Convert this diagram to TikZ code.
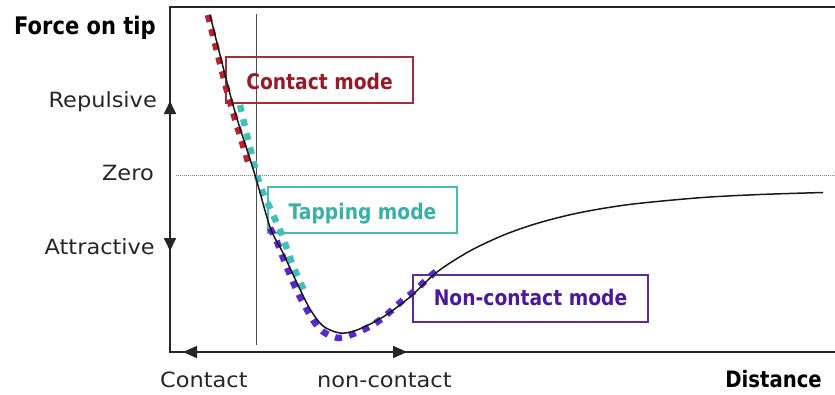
\documentclass[tikz,border=0pt]{standalone}
\usepackage{fontspec}
\usetikzlibrary{arrows.meta}
\newfontfamily\regfont{DejaVu Sans}[FakeStretch=1.07]
\newfontfamily\narrowbold{DejaVu Sans}[FakeStretch=0.87]

\definecolor{cmtext}{RGB}{150,26,40}
\definecolor{cmline}{RGB}{165,45,55}
\definecolor{cmdot}{RGB}{185,32,48}
\definecolor{tmtext}{RGB}{56,176,168}
\definecolor{tmline}{RGB}{70,188,180}
\definecolor{tmdot}{RGB}{64,192,184}
\definecolor{nctext}{RGB}{74,26,154}
\definecolor{ncline}{RGB}{92,44,156}
\definecolor{ncdot}{RGB}{90,40,208}

\tikzset{
  axisline/.style={line width=1.7pt, black!85},
  axistip/.style={line width=1.7pt, black!85, -{Triangle[length=13pt,width=12pt]}},
  bothtips/.style={line width=1.7pt, black!85,
    {Triangle[length=14pt,width=12pt]}-{Triangle[length=14pt,width=12pt]}},
  zeroline/.style={line width=0.9pt, gray, dash pattern=on 1pt off 1pt},
  divider/.style={line width=1pt, black!70},
  reglabel/.style={inner sep=0pt, font=\regfont\fontsize{21}{24}\selectfont, text=black!85},
  boldlabel/.style={inner sep=0pt, font=\narrowbold\bfseries\fontsize{22.6}{26}\selectfont},
  modebox/.style={draw, line width=1.5pt, inner sep=0pt,
    font=\narrowbold\bfseries\fontsize{21.5}{24}\selectfont,
    text height=18pt, text depth=0pt},
  dots/.style={line width=6.5pt, dash pattern=on 7pt off 7.5pt, line cap=butt},
  curve/.style={line width=1.5pt, black!90},
}

\begin{document}
\begin{tikzpicture}[x=1pt, y=-1pt]
\useasboundingbox (0,0) rectangle (835,394);

% frame of the plot
\coordinate (tr) at (835,7);
\coordinate (tl) at (170,7);
\coordinate (bl) at (170,352);
\coordinate (br) at (835,352);
\draw[axisline] (tr) -- (tl) -- (bl) -- (br);

% zero force level
\coordinate (z0) at (176,175);
\coordinate (z1) at (835,175);
\draw[zeroline] (z0) -- (z1);

% repulsive / attractive arrows on the force axis
\coordinate (zaxis) at (170,175);
\coordinate (reptip) at (170,101);
\coordinate (atttip) at (170,251);
\draw[axistip] (zaxis) -- (reptip);
\draw[axistip] (zaxis) -- (atttip);

% contact / non-contact arrows on the distance axis
\coordinate (ctip) at (183,352);
\coordinate (nctip) at (407,352);
\draw[bothtips] (ctip) -- (nctip);

% boundary between contact and non-contact
\coordinate (v0) at (256,14);
\coordinate (v1) at (256,345);
\draw[divider] (v0) -- (v1);

% mode boxes
\node[modebox, draw=cmline, text=cmtext, minimum width=187pt, minimum height=46pt]
  (contactbox) at (319.5,80) {Contact mode};
\node[modebox, draw=tmline, text=tmtext, minimum width=189pt, minimum height=46pt]
  (tappingbox) at (362.5,210) {Tapping mode};
\node[modebox, draw=ncline, text=nctext, minimum width=235pt, minimum height=47pt,
  text height=14pt] (noncontactbox) at (530.5,298.5) {Non-contact mode};

% operating ranges of the three modes
\draw[dots, cmdot] plot[smooth, tension=0.5] coordinates
  {(208,15) (229,98) (250,168)};
\draw[dots, tmdot] plot[smooth, tension=0.5] coordinates
  {(240,105) (247,135) (257,175) (263,193) (270,208) (282,235) (292,263) (305,293)};
\draw[dots, ncdot] plot[smooth, tension=0.5] coordinates
  {(270,228) (277,242) (288,270) (300,297) (315,323) (325,333) (339,338)
   (353,334) (367,328) (380,320) (392,310) (403,300) (417,289) (427,279) (439,269)};

% force-distance curve
\draw[curve] plot[smooth, tension=0.5] coordinates
  {(210,15) (233,105) (255,175) (270,227) (283,253) (297,283) (310,309)
   (323,326) (340,333) (357,330) (383,317) (410,297) (437,272) (470,250.9)
   (505,234.5) (540,222.5) (580,212.6) (630,204.4) (700,197.7) (760,194.5)
   (823,192.5)};

% axis labels
\node[boldlabel, anchor=base west, font=\narrowbold\bfseries\fontsize{24.2}{28}\selectfont]
  (forcelbl) at (14,34) {Force on tip};
\node[reglabel, anchor=base east] (replbl) at (157,107) {Repulsive};
\node[reglabel, anchor=base east] (zerolbl) at (154,180) {Zero};
\node[reglabel, anchor=base east] (attlbl) at (155,254) {Attractive};
\node[reglabel, anchor=base west] (contlbl) at (160,387) {Contact};
\node[reglabel, anchor=base west] (nclbl) at (317,387) {non-contact};
\node[boldlabel, anchor=base east] (distlbl) at (822,387) {Distance};
\end{tikzpicture}
\end{document}
